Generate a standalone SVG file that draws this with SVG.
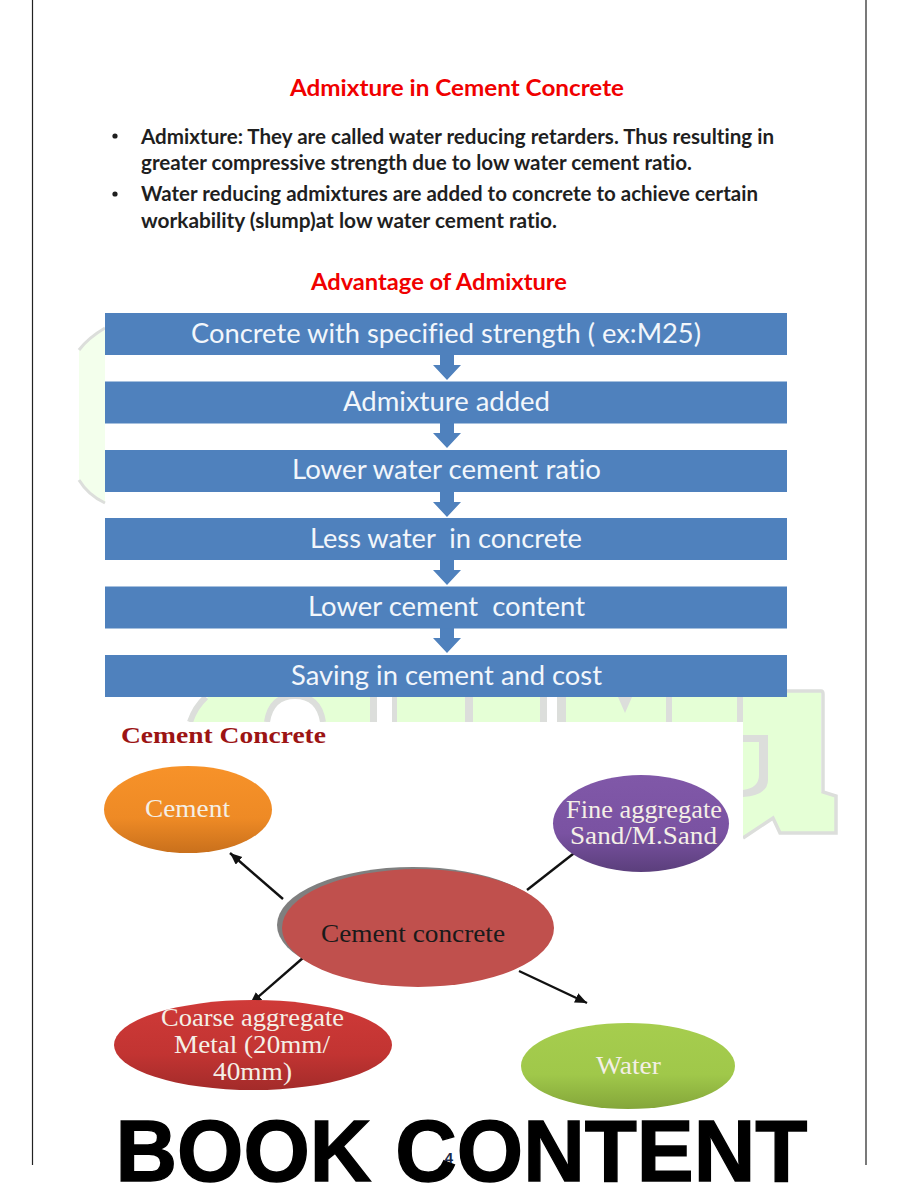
<svg xmlns="http://www.w3.org/2000/svg" width="900" height="1200" viewBox="0 0 900 1200">
<style>
text{white-space:pre;font-variant-ligatures:none}
.h{font-family:"Lato","Liberation Sans",sans-serif;font-weight:700;font-size:23.500px;fill:#f00000;text-anchor:middle}
.b{font-family:"Lato","Liberation Sans",sans-serif;font-weight:700;font-size:20px;fill:#1f1f1f}
.dot{fill:#1f1f1f}
.box{fill:#4f81bd}
.t{font-family:"Lato","Liberation Sans",sans-serif;font-size:27px;fill:#f2f6fb;text-anchor:middle}
.e{font-family:"Liberation Serif","DejaVu Serif",serif;font-size:24.500px;fill:#f4efe6;text-anchor:middle}
.g{fill:#e5ffd6}
.s{fill:#dcdedb}
.l{fill:none;stroke:#dcdedb}
.c{stroke:#111;stroke-width:2.400;fill:none;marker-end:url(#a)}
</style>
<defs>
<marker id="a" markerUnits="userSpaceOnUse" markerWidth="14" markerHeight="12" refX="12" refY="5" orient="auto"><path d="M0 0L12 5L0 10Z" fill="#111"/></marker>
<linearGradient id="go" x1="0" y1="0" x2="0" y2="1"><stop offset="0" stop-color="#f79229"/><stop offset=".6" stop-color="#ee8a25"/><stop offset="1" stop-color="#c9701c"/></linearGradient>
<linearGradient id="gp" x1="0" y1="0" x2="0" y2="1"><stop offset="0" stop-color="#8058a8"/><stop offset=".6" stop-color="#7a52a2"/><stop offset="1" stop-color="#5b3f7c"/></linearGradient>
<linearGradient id="gr" x1="0" y1="0" x2="0" y2="1"><stop offset="0" stop-color="#cf3a38"/><stop offset=".6" stop-color="#c23432"/><stop offset="1" stop-color="#a32b2a"/></linearGradient>
<linearGradient id="gg" x1="0" y1="0" x2="0" y2="1"><stop offset="0" stop-color="#a6cd4e"/><stop offset=".6" stop-color="#a0c84a"/><stop offset="1" stop-color="#84a63a"/></linearGradient>
</defs>
<rect width="900" height="1200" fill="#fff"/>
<g id="watermark">
<path d="M105 330Q88 338 79 350V480Q88 495 105 503Z" fill="#f3ffec"/>
<path class="l" stroke-width="3" d="M105 328Q88 338 79 350M79 480Q88 495 105 503"/>
<path class="g" d="M189 722Q195 705 208 697H372V722Z"/>
<path class="l" stroke-width="6" d="M190 722Q195 707 206 697"/>
<path d="M268 722Q272 697 295 697Q318 697 322 722Z" fill="#fff"/>
<path class="l" stroke-width="6" d="M267 722Q271 696 295 696Q319 696 323 722"/>
<rect class="s" x="370" y="697" width="7" height="25"/>
<rect class="s" x="392" y="697" width="5" height="25"/>
<rect class="g" x="397" y="697" width="68" height="25"/>
<rect class="s" x="465" y="697" width="8" height="25"/>
<rect class="g" x="473" y="697" width="69" height="25"/>
<rect class="s" x="540" y="697" width="7" height="25"/>
<rect class="s" x="557" y="697" width="9" height="25"/>
<rect class="g" x="566" y="697" width="100" height="25"/>
<path class="s" d="M618 697H632L625 713Z"/>
<rect class="s" x="666" y="697" width="6" height="25"/>
<rect class="g" x="672" y="697" width="65" height="25"/>
<rect class="s" x="737" y="697" width="6" height="25"/>
<path class="g" d="M743 697H787V692H821V792L835 796V832H780L773 817L743 838Z"/>
<path class="l" stroke-width="3.500" d="M787 691H821Q823 691 823 694V792L836 796V833H780L773 818L743 838"/>
<path class="s" d="M743 735H768V780Q768 795 743 797V790Q759 788 759 775V742H743Z"/>
</g>
<path d="M32.500 0V1165M866 0V1165" stroke="#222" stroke-width="1.200" fill="none"/>
<g id="text-top">
<text class="h" x="457" y="95.500" textLength="334" lengthAdjust="spacingAndGlyphs">Admixture in Cement Concrete</text>
<circle class="dot" cx="115" cy="136" r="2.600"/>
<text class="b" x="141" y="144" textLength="633" lengthAdjust="spacingAndGlyphs">Admixture: They are called water reducing retarders. Thus resulting in</text>
<text class="b" x="141" y="170" textLength="551" lengthAdjust="spacingAndGlyphs">greater compressive strength due to low water cement ratio.</text>
<circle class="dot" cx="115" cy="194" r="2.600"/>
<text class="b" x="141" y="201" textLength="617" lengthAdjust="spacingAndGlyphs">Water reducing admixtures are added to concrete to achieve certain</text>
<text class="b" x="141" y="228" textLength="416" lengthAdjust="spacingAndGlyphs">workability (slump)at low water cement ratio.</text>
<text class="h" x="439" y="289.500" textLength="256" lengthAdjust="spacingAndGlyphs">Advantage of Admixture</text>
</g>
<rect x="105" y="722" width="638" height="370" fill="#fff"/>
<g id="connectors">
<path class="box" d="M440 355H454V365H461L447 380L433 365H440Z"/>
<path class="box" d="M440 423H454V433H461L447 448L433 433H440Z"/>
<path class="box" d="M440 492H454V502H461L447 517L433 502H440Z"/>
<path class="box" d="M440 560H454V570H461L447 585L433 570H440Z"/>
<path class="box" d="M440 628H454V638H461L447 653L433 638H440Z"/>
<path class="c" d="M283 899L230 853"/>
<path class="c" d="M527 890L587 843"/>
<path class="c" d="M304 957L250 1004"/>
<path class="c" d="M519 971L587 1003"/>
</g>
<g id="n1"><rect class="box" x="105" y="313" width="682" height="42"/><text class="t" x="446" y="343" textLength="510" lengthAdjust="spacingAndGlyphs">Concrete with specified strength ( ex:M25)</text></g>
<g id="n2"><rect class="box" x="105" y="381.500" width="682" height="42"/><text class="t" x="446.500" y="411" textLength="207" lengthAdjust="spacingAndGlyphs">Admixture added</text></g>
<g id="n3"><rect class="box" x="105" y="450" width="682" height="42"/><text class="t" x="446.500" y="479" textLength="309" lengthAdjust="spacingAndGlyphs">Lower water cement ratio</text></g>
<g id="n4"><rect class="box" x="105" y="518" width="682" height="42"/><text class="t" x="446" y="548" textLength="272" lengthAdjust="spacingAndGlyphs">Less water  in concrete</text></g>
<g id="n5"><rect class="box" x="105" y="586.500" width="682" height="42"/><text class="t" x="446.500" y="616" textLength="277" lengthAdjust="spacingAndGlyphs">Lower cement  content</text></g>
<g id="n6"><rect class="box" x="105" y="655" width="682" height="42"/><text class="t" x="446.500" y="685" textLength="311" lengthAdjust="spacingAndGlyphs">Saving in cement and cost</text></g>
<text id="title2" x="121" y="743" font-family="Liberation Serif,serif" font-weight="700" font-size="23" fill="#9c1414" textLength="205" lengthAdjust="spacingAndGlyphs">Cement Concrete</text>
<g id="cement"><ellipse cx="188" cy="809.500" rx="84" ry="43.500" fill="url(#go)"/><text class="e" x="187.500" y="817" textLength="85" lengthAdjust="spacingAndGlyphs">Cement</text></g>
<g id="fine"><ellipse cx="641" cy="823.500" rx="88" ry="48.500" fill="url(#gp)"/><text class="e" x="644" y="818" textLength="156" lengthAdjust="spacingAndGlyphs">Fine aggregate</text><text class="e" x="643.500" y="844" textLength="147" lengthAdjust="spacingAndGlyphs">Sand/M.Sand</text></g>
<g id="centre"><ellipse cx="413" cy="925" rx="136" ry="58" fill="#7f7f7f"/><ellipse cx="418" cy="928" rx="136" ry="59" fill="#c0504d"/><text x="413" y="942" font-family="Liberation Serif,serif" font-size="24.500" fill="#1a1a1a" text-anchor="middle" textLength="184" lengthAdjust="spacingAndGlyphs">Cement concrete</text></g>
<g id="coarse"><ellipse cx="253" cy="1045" rx="139" ry="45" fill="url(#gr)"/><text class="e" x="252.500" y="1026" textLength="183" lengthAdjust="spacingAndGlyphs">Coarse aggregate</text><text class="e" x="252" y="1053" textLength="156" lengthAdjust="spacingAndGlyphs">Metal (20mm/</text><text class="e" x="252.500" y="1080" textLength="79" lengthAdjust="spacingAndGlyphs">40mm)</text></g>
<g id="water"><ellipse cx="628" cy="1066" rx="107" ry="43" fill="url(#gg)"/><text class="e" x="628.500" y="1074" textLength="65" lengthAdjust="spacingAndGlyphs">Water</text></g>
<text id="banner" x="461.500" y="1180.500" font-family="Liberation Sans,sans-serif" font-weight="700" font-size="87" fill="#000" stroke="#000" stroke-width="1.400" text-anchor="middle" textLength="692" lengthAdjust="spacingAndGlyphs">BOOK CONTENT</text>
<text id="pageno" x="449" y="1163" font-family="Liberation Sans,sans-serif" font-weight="700" font-size="15" fill="#1a2a4a" text-anchor="middle">4</text>
</svg>
